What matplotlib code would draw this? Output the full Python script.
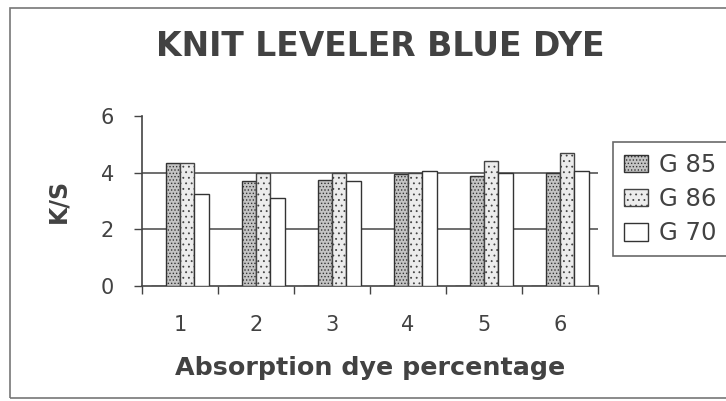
import matplotlib
matplotlib.use("Agg")
import matplotlib.pyplot as plt
import numpy as np
from matplotlib.patches import Rectangle

plt.rcParams['font.family'] = ['DejaVu Sans']
plt.rcParams['hatch.linewidth'] = 0.6

categories = ['1', '2', '3', '4', '5', '6']
series_names = ['G 85', 'G 86', 'G 70']
g00 = [0, 0, 0, 0, 0, 0]  # empty fourth series slot (zero values)
g85 = [4.35, 3.72, 3.75, 3.95, 3.9, 4.0]
g86 = [4.35, 4.0, 4.0, 4.0, 4.4, 4.7]
g70 = [3.26, 3.12, 3.72, 4.05, 4.0, 4.05]
yticks = [0, 2, 4, 6]

txt = '#424242'
fig = plt.figure(figsize=(7.26, 4.01), dpi=100)
ax = fig.add_axes([142/726, 1-286/401, (598-142)/726, (286-116)/401])

x = np.arange(1, len(categories) + 1)
w = 0.19
ax.bar(x - 1.5*w, g00, w, color='white', edgecolor='#333333', linewidth=1.0, zorder=3)
b1 = ax.bar(x - 0.5*w, g85, w, color='#c4c4c4', edgecolor='#333333', hatch='.....',
            linewidth=1.0, label=series_names[0], zorder=3)
b2 = ax.bar(x + 0.5*w, g86, w, color='#ececec', edgecolor='#444444', hatch='...',
            linewidth=1.0, label=series_names[1], zorder=3)
b3 = ax.bar(x + 1.5*w, g70, w, color='white', edgecolor='#333333',
            linewidth=1.0, label=series_names[2], zorder=3)

ax.set_xlim(0.5, len(categories) + 0.5)
ax.set_ylim(0, 6)
ax.set_yticks(yticks)
ax.set_yticklabels([str(v) for v in yticks], fontsize=15, color=txt)
ax.set_xticks(x)
ax.set_xticklabels(categories, fontsize=15, color=txt)
ax.set_xticks(np.arange(0.5, len(categories) + 1.0, 1.0), minor=True)
ax.tick_params(axis='x', which='major', length=0, pad=21)
ax.tick_params(axis='x', which='minor', length=6, direction='out', width=1, color='#444444')
ax.tick_params(axis='y', length=6, width=1, direction='out', color='#444444', pad=14)

for s in ['top', 'right']:
    ax.spines[s].set_visible(False)
for s in ['left', 'bottom']:
    ax.spines[s].set_color('#444444')
    ax.spines[s].set_linewidth(1.2)

ax.yaxis.grid(True, color='#555555', linewidth=1.2, zorder=0)
gl = ax.yaxis.get_gridlines()
gl[0].set_visible(False)
gl[-1].set_visible(False)

ax.set_ylabel('K/S', fontsize=17, fontweight='bold', color=txt, labelpad=22)
ax.set_xlabel('Absorption dye percentage', fontsize=18.3, fontweight='bold', color=txt, labelpad=15)
fig.text(380/726, 1-47/401, 'KNIT LEVELER BLUE DYE', fontsize=23.8, fontweight='bold',
         color=txt, ha='center', va='center')

leg = fig.legend(handles=[b1, b2, b3], labels=series_names, loc='upper left',
                 bbox_to_anchor=(613/726, 1-142/401), bbox_transform=fig.transFigure,
                 fontsize=17.5, frameon=True, fancybox=False, borderaxespad=0,
                 handlelength=1.0, handleheight=0.72, handletextpad=0.45,
                 labelspacing=0.42, borderpad=0.45, labelcolor=txt)
leg.get_frame().set_edgecolor('#444444')
leg.get_frame().set_linewidth(1.2)

fig.patches.append(Rectangle((10/726, 3/401), 1.0, 390/401, transform=fig.transFigure,
                             fill=False, edgecolor='#777777', linewidth=1.2))

fig.savefig('out.png', dpi=100)
